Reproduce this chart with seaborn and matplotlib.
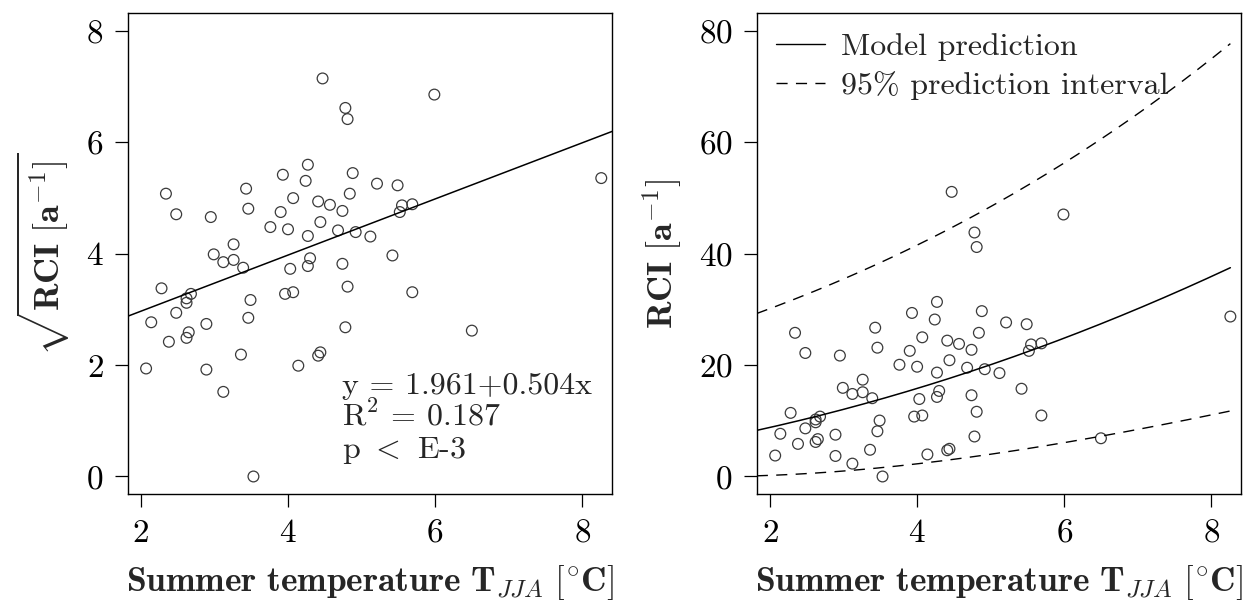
import numpy as np
import pandas as pd
import matplotlib
matplotlib.use("Agg")
import matplotlib.pyplot as plt
from matplotlib.lines import Line2D
import seaborn as sns

# ---- data ----
temp = [4.47, 4.78, 4.81, 4.27, 3.93, 4.24, 4.88, 5.21, 2.34, 3.43,
        4.07, 4.84, 4.41, 4.57, 4.74, 2.48, 2.95, 3.46, 3.90, 3.76,
        4.00, 4.44, 4.27, 4.68, 4.92, 5.12, 3.26,
        5.99, 5.49, 5.55, 5.69, 5.52, 8.26,
        2.99, 3.12, 3.26, 3.39, 4.03, 4.30, 4.27, 4.74, 4.81, 2.28,
        2.62, 2.68, 2.62, 2.48, 2.14, 2.89, 2.65, 2.62, 2.38, 3.49,
        3.46, 3.96, 4.07, 4.78, 3.36, 4.44, 4.41, 4.14, 2.07, 2.89,
        3.12, 3.53,
        5.42, 5.69, 6.50]
sqrt_rci = [7.15, 6.62, 6.42, 5.60, 5.42, 5.31, 5.45, 5.26, 5.08, 5.17,
            5.00, 5.08, 4.94, 4.88, 4.77, 4.71, 4.66, 4.81, 4.75, 4.48,
            4.44, 4.57, 4.32, 4.42, 4.39, 4.31, 4.17,
            6.86, 5.23, 4.87, 4.89, 4.75, 5.36,
            3.99, 3.85, 3.89, 3.75, 3.73, 3.92, 3.78, 3.82, 3.41, 3.38,
            3.20, 3.28, 3.12, 2.94, 2.77, 2.74, 2.59, 2.49, 2.42, 3.17,
            2.85, 3.28, 3.31, 2.68, 2.19, 2.23, 2.17, 1.99, 1.94, 1.92,
            1.52, 0.00,
            3.97, 3.31, 2.62]
INTERCEPT = 1.961
SLOPE = 0.504
R2_TEXT = "0.187"
T_CRIT = 1.997  # t quantile (0.975, n-2)

x_ticks = [2, 4, 6, 8]
y_ticks_left = [0, 2, 4, 6, 8]
y_ticks_right = [0, 20, 40, 60, 80]
legend_labels = ["Model prediction", "95% prediction interval"]

df = pd.DataFrame({"temp": temp, "sqrt_rci": sqrt_rci})
df["rci"] = df["sqrt_rci"] ** 2

# prediction interval on sqrt scale, back-transformed
XLIM = (1.82, 8.41)
x = df["temp"].to_numpy()
y = df["sqrt_rci"].to_numpy()
n = len(x)
xbar = x.mean()
sxx = ((x - xbar) ** 2).sum()
resid = y - (INTERCEPT + SLOPE * x)
s = np.sqrt((resid ** 2).sum() / (n - 2))
grid = np.linspace(XLIM[0], x.max(), 200)
fit = INTERCEPT + SLOPE * grid
half = T_CRIT * s * np.sqrt(1 + 1 / n + (grid - xbar) ** 2 / sxx)
curves = pd.DataFrame({
    "temp": grid,
    "model": fit ** 2,
    "upper": (fit + half) ** 2,
    "lower": np.clip(fit - half, 0, None) ** 2,
})

sns.set_theme(style="ticks")
plt.rcParams.update({
    "font.family": ["cmr10", "DejaVu Serif"],
    "mathtext.fontset": "cm",
    "axes.formatter.use_mathtext": True,
    "axes.edgecolor": "black",
    "axes.linewidth": 1.0,
    "xtick.color": "black",
    "ytick.color": "black",
})

W, H = 1258, 601
fig = plt.figure(figsize=(W / 100, H / 100), dpi=100)
box_l1, box_l2, box_r_w = 127.7, 756.8, 484.6
box_top, box_bot = 13.3, 494.3
ax1 = fig.add_axes([box_l1 / W, (H - box_bot) / H, box_r_w / W, (box_bot - box_top) / H])
ax2 = fig.add_axes([box_l2 / W, (H - box_bot) / H, box_r_w / W, (box_bot - box_top) / H])

mk = dict(s=60, marker="o", facecolor="none", edgecolor="#3a3a3a", linewidth=0.9)
DASH = (0, (8, 6))
XLABEL = r"$\mathbf{Summer\ temperature\ T}_{JJA}\ [^{\circ}\mathbf{C}]$"

# ---- left panel ----
sns.scatterplot(data=df, x="temp", y="sqrt_rci", ax=ax1, **mk)
ax1.axline((0, INTERCEPT), slope=SLOPE, color="black", lw=1.1)
ax1.set_xlim(*XLIM)
ax1.set_ylim(-0.32, 8.32)
ax1.set_xticks(x_ticks)
ax1.set_yticks(y_ticks_left)
ax1.set_xlabel(XLABEL, fontsize=25.5, labelpad=11)
ax1.set_ylabel(r"$\sqrt{\mathbf{RCI}\ [\mathbf{a}^{-1}]}$", fontsize=26, labelpad=10)
tx = 4.73
ax1.text(tx, 1.49, "y = 1.961+0.504x", fontsize=23, va="baseline")
ax1.text(tx, 0.92, r"R$^{2}$ = " + R2_TEXT, fontsize=23, va="baseline")
ax1.text(tx, 0.34, r"p $<$ E-3", fontsize=23, va="baseline")

# ---- right panel ----
sns.scatterplot(data=df, x="temp", y="rci", ax=ax2, **mk)
sns.lineplot(data=curves, x="temp", y="model", ax=ax2, color="black", lw=1.1)
sns.lineplot(data=curves, x="temp", y="upper", ax=ax2, color="black", lw=1.0, linestyle=DASH)
sns.lineplot(data=curves, x="temp", y="lower", ax=ax2, color="black", lw=1.0, linestyle=DASH)
ax2.set_xlim(*XLIM)
ax2.set_ylim(-3.2, 83.2)
ax2.set_xticks(x_ticks)
ax2.set_yticks(y_ticks_right)
ax2.set_xlabel(XLABEL, fontsize=25.5, labelpad=11)
ax2.set_ylabel(r"$\mathbf{RCI}\ [\mathbf{a}^{-1}]$", fontsize=26, labelpad=10)
handles = [Line2D([], [], color="black", lw=1.0),
           Line2D([], [], color="black", lw=1.0, linestyle=DASH)]
ax2.legend(handles, legend_labels, loc="upper left", frameon=False, fontsize=23,
           handlelength=1.55, handletextpad=0.5, labelspacing=0.32,
           borderaxespad=0.2, bbox_to_anchor=(0.0, 1.0))

for ax in (ax1, ax2):
    ax.tick_params(direction="out", length=9.5, width=0.9, labelsize=24, pad=8)
    for sp in ax.spines.values():
        sp.set_visible(True)
        sp.set_color("black")
        sp.set_linewidth(1.0)

fig.savefig("out.png", dpi=100, facecolor="white")
